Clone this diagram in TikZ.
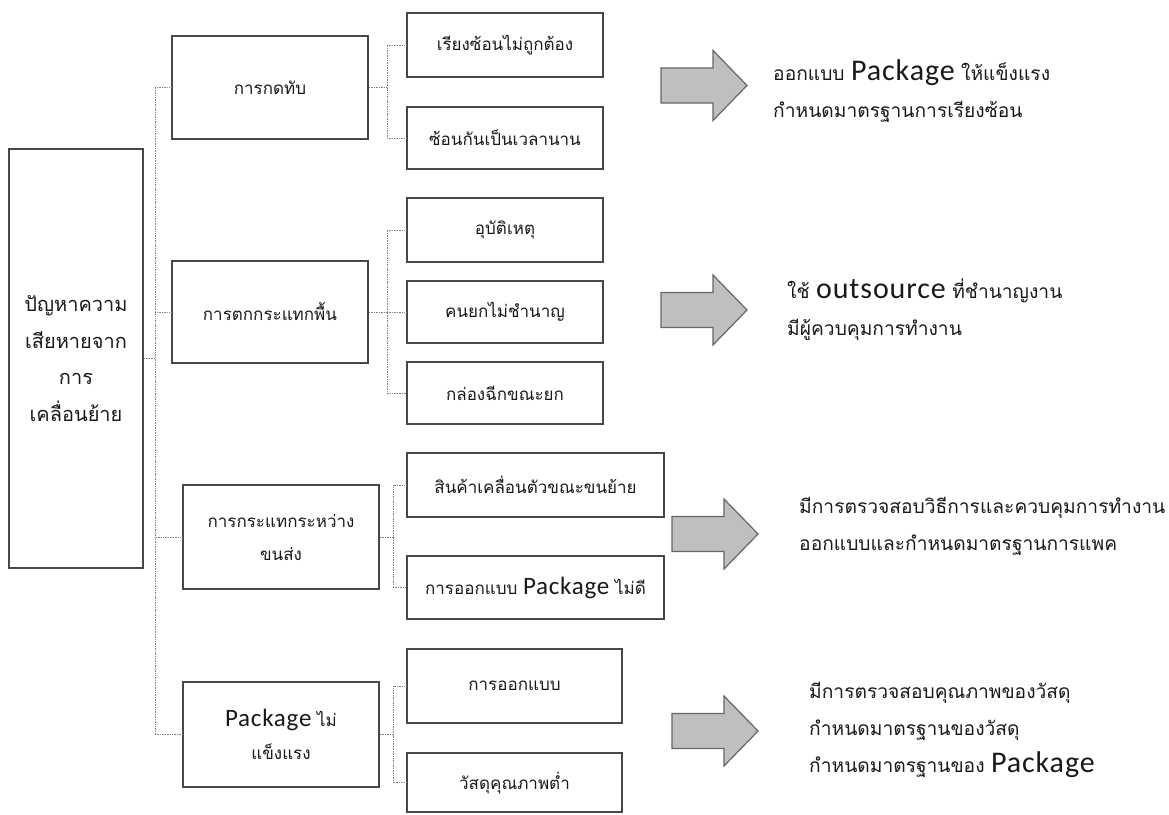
\documentclass[tikz,border=0pt]{standalone}
\usepackage{fontspec}
\setmainfont[Script=Thai]{Loma}
\newfontfamily\latf[LetterSpace=3]{Carlito}
\newcommand\LT[2]{{\latf\fontsize{#1}{#1}\selectfont #2}}
\begin{document}
\begin{tikzpicture}[x=1pt,y=-1pt,
  box/.style={draw=black!72, line width=1.6pt, fill=white, inner sep=2pt, align=center,
    font=\fontsize{17}{33}\selectfont, text=black!90},
  l1/.style={box, minimum width=196pt},
  conn/.style={draw=black!50, line width=0.7pt, densely dotted},
  note/.style={anchor=west, align=left, inner sep=0pt, text=black!90, font=\fontsize{19.2}{37}\selectfont},
  barrow/.style={draw=black!60, line width=1.2pt, fill=black!25, line join=miter}]
\useasboundingbox (0,0) rectangle (1169,814);

% main box
\node[box, minimum width=134pt, minimum height=419pt, font=\fontsize{20}{36.5}\selectfont] (main) at (76,358.5)
  {ปัญหาความ\\เสียหายจาก\\การ\\เคลื่อนย้าย};

% level 1
\node[l1, minimum height=103pt] (a) at (270,87.5) {การกดทับ};
\node[l1, minimum height=102pt] (b) at (270,312) {การตกกระแทกพื้น};
\node[l1, minimum height=104pt] (c) at (281,537) {การกระแทกระหว่าง\\ขนส่ง};
\node[l1, minimum height=105pt] (d) at (281,734.5) {\LT{25}{Package} ไม่\\แข็งแรง};

% level 2
\node[l1, minimum height=64pt] (a1) at (505,45) {เรียงซ้อนไม่ถูกต้อง};
\node[l1, minimum height=62pt] (a2) at (505,138) {ซ้อนกันเป็นเวลานาน};
\node[l1, minimum height=64pt] (b1) at (505,230) {อุบัติเหตุ};
\node[l1, minimum height=62pt] (b2) at (505,312) {คนยกไม่ชำนาญ};
\node[l1, minimum height=62pt] (b3) at (505,393) {กล่องฉีกขณะยก};
\node[box, minimum width=257pt, minimum height=64pt] (c1) at (535.5,485) {สินค้าเคลื่อนตัวขณะขนย้าย};
\node[box, minimum width=257pt, minimum height=63pt] (c2) at (535.5,587.5) {การออกแบบ \LT{25}{Package} ไม่ดี};
\node[box, minimum width=215pt, minimum height=74pt] (d1) at (514.5,686) {การออกแบบ};
\node[box, minimum width=215pt, minimum height=59pt] (d2) at (514.5,782.5) {วัสดุคุณภาพต่ำ};

% connectors
\coordinate (tk) at (155,358.5);
\draw[conn] (main.east) -- (tk);
\draw[conn] (a.west) -| (tk) |- (d.west);
\draw[conn] (b.west) -- (b.west -| tk);
\draw[conn] (c.west) -- (c.west -| tk);

\coordinate (g1) at (387,87.5);
\draw[conn] (a.east) -- (g1);
\draw[conn] (a1.west) -| (g1) |- (a2.west);
\coordinate (g2) at (387,312);
\draw[conn] (b.east) -- (g2);
\draw[conn] (b1.west) -| (g2) |- (b3.west);
\draw[conn] (b2.west) -- (g2);
\coordinate (g3) at (393,537);
\draw[conn] (c.east) -- (g3);
\draw[conn] (c1.west) -| (g3) |- (c2.west);
\coordinate (g4) at (393,734.5);
\draw[conn] (d.east) -- (g4);
\draw[conn] (d1.west) -| (g4) |- (d2.west);

% block arrows
\foreach \x/\y in {661/85.5, 661/310, 672/534, 672/731}{
  \draw[barrow] (\x,\y-17.5) -- ++(52,0) -- ++(0,-17.5) -- ++(34,35) -- ++(-34,35)
    -- ++(0,-17.5) -- ++(-52,0) -- cycle;
}

% notes
\node[note] (t1) at (773,91.5) {ออกแบบ \LT{30}{Package} ให้แข็งแรง\\กำหนดมาตรฐานการเรียงซ้อน};
\node[note] (t2) at (787,310) {ใช้ \LT{30}{outsource} ที่ชำนาญงาน\\มีผู้ควบคุมการทำงาน};
\node[note] (t3) at (799,526.5) {มีการตรวจสอบวิธีการและควบคุมการทำงาน\\ออกแบบและกำหนดมาตรฐานการแพค};
\node[note] (t4) at (809,730) {มีการตรวจสอบคุณภาพของวัสดุ\\กำหนดมาตรฐานของวัสดุ\\กำหนดมาตรฐานของ \LT{30}{Package}};
\end{tikzpicture}
\end{document}
